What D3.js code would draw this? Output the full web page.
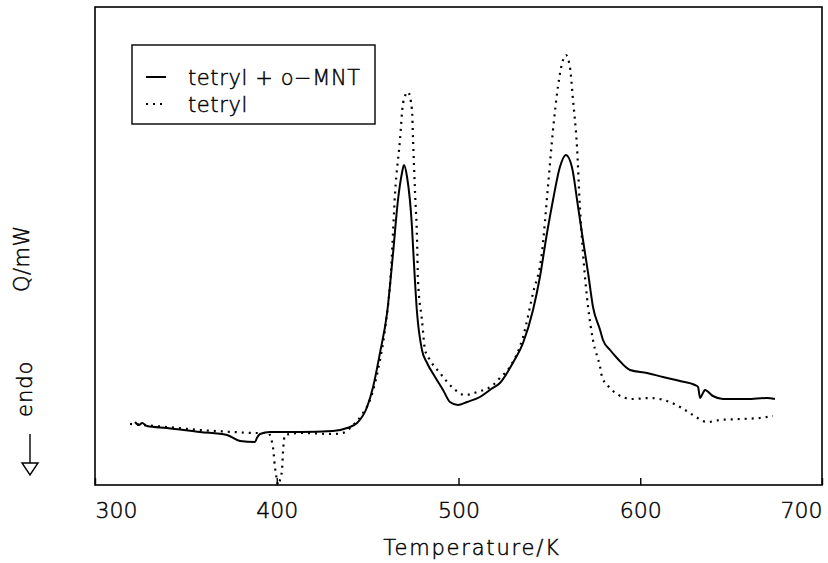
<!DOCTYPE html>
<html>
<head>
<meta charset="utf-8">
<script src="https://cdn.jsdelivr.net/npm/d3@7"></script>
<style>
  body { margin: 0; background: #fff; }
  text { font-family: "DejaVu Sans", sans-serif; font-weight: 200; fill: #000; stroke: #000; stroke-width: 0.45px; }
</style>
</head>
<body>
<div id="chart"></div>
<script>
// DSC traces (Q in arbitrary units, T in K)
const mixT = [322.0, 324.2, 325.9, 328.6, 339.6, 357.8, 372.6, 379.8, 388.0, 389.1, 390.8, 396.3,
  412.8, 430.9, 438.7, 444.2, 449.7, 453.0, 456.8, 460.7, 464.0, 466.7, 468.9, 470.0, 471.7,
  474.4, 475.0, 477.2, 479.9, 482.7, 487.1, 491.5, 495.3, 499.7, 504.7, 511.8, 518.0, 522.8,
  529.9, 535.5, 541.0, 544.8, 548.7, 552.0, 555.8, 559.1, 562.4, 565.8, 568.5, 571.3, 574.0,
  577.9, 579.5, 583.4, 587.2, 594.4, 603.7, 612.5, 621.9, 630.1, 631.8, 632.9, 634.5, 635.6,
  640.0, 645.5, 658.7, 669.7, 674.1];
const mixQ = [6.3, 6.0, 6.2, 5.9, 5.7, 5.3, 5.0, 4.4, 4.3, 4.7, 5.1, 5.3,
  5.3, 5.4, 5.7, 6.2, 7.8, 9.8, 13.2, 17.2, 23.2, 28.5, 31.2, 32.0, 30.8,
  25.8, 23.8, 17.2, 13.5, 12.2, 10.8, 9.5, 8.3, 8.0, 8.3, 8.8, 9.6, 10.2,
  12.2, 14.2, 17.5, 20.8, 25.2, 28.5, 31.8, 33.0, 31.8, 27.8, 24.5, 21.2, 17.8,
  15.5, 14.5, 13.5, 12.7, 11.5, 11.2, 10.8, 10.4, 10.0, 9.8, 8.7, 9.2, 9.5,
  8.9, 8.6, 8.6, 8.7, 8.6];

const tetT = [319.3, 339.6, 357.8, 375.9, 389.1, 395.2, 397.9, 399.0, 400.1, 400.7, 401.8, 402.9,
  403.4, 404.5, 412.8, 430.9, 436.4, 442.0, 447.5, 451.3, 455.7, 459.5, 462.9, 465.1, 467.8,
  469.5, 472.2, 474.4, 475.0, 476.1, 477.2, 477.7, 479.9, 481.6, 484.3, 489.8, 497.0, 503.6,
  510.2, 519.0, 522.8, 528.3, 535.5, 541.0, 545.9, 549.2, 552.0, 554.7, 557.5, 559.1, 561.3,
  563.0, 565.2, 566.8, 568.5, 571.3, 574.0, 577.9, 579.0, 583.4, 587.2, 595.5, 605.4, 614.7,
  621.9, 629.0, 636.7, 643.9, 654.9, 665.9, 673.0];
const tetQ = [6.1, 5.8, 5.5, 5.3, 5.2, 5.2, 3.8, 1.8, 0.5, 0.0, 0.5, 1.5,
  3.2, 5.0, 5.2, 5.1, 5.2, 6.0, 7.2, 8.5, 11.5, 15.5, 21.5, 29.2, 34.5,
  38.2, 39.3, 37.5, 34.5, 29.2, 24.5, 20.5, 16.5, 13.5, 12.5, 11.2, 9.7, 9.0,
  9.3, 10.0, 10.7, 11.8, 14.8, 19.2, 23.2, 29.8, 35.5, 39.8, 42.5, 43.0, 41.8,
  38.5, 33.8, 27.8, 23.2, 17.8, 14.5, 11.8, 10.8, 9.7, 9.1, 8.6, 8.7, 8.4,
  7.8, 7.0, 6.3, 6.5, 6.6, 6.7, 6.9];

const xTicks = [300, 400, 500, 600, 700];
const legendLabels = ["tetryl + o\u2212MNT", "tetryl"];

const width = 828, height = 563;
const margin = { top: 7, right: 6, bottom: 78, left: 95 };
const innerWidth = width - margin.left - margin.right;
const innerHeight = height - margin.top - margin.bottom;

const svg = d3.select("#chart").append("svg")
  .attr("width", width)
  .attr("height", height);

const inner = svg.append("g")
  .attr("transform", `translate(${margin.left},${margin.top})`);

const x = d3.scaleLinear().domain([300, 700]).range([0, innerWidth]);
const y = d3.scaleLinear().domain([0, 47.8]).range([innerHeight, 0]);

const line = d3.line()
  .x(d => x(d[0]))
  .y(d => y(d[1]))
  .curve(d3.curveMonotoneX);

// Curves
inner.append("path")
  .datum(tetT.map((t, i) => [t, tetQ[i]]))
  .attr("d", line)
  .attr("fill", "none")
  .attr("stroke", "#000")
  .attr("stroke-width", 2.2)
  .attr("stroke-dasharray", "2,5");

inner.append("path")
  .datum(mixT.map((t, i) => [t, mixQ[i]]))
  .attr("d", line)
  .attr("fill", "none")
  .attr("stroke", "#000")
  .attr("stroke-width", 2)
  .attr("stroke-linejoin", "round");

// Frame
inner.append("rect")
  .attr("width", innerWidth)
  .attr("height", innerHeight)
  .attr("fill", "none")
  .attr("stroke", "#000")
  .attr("stroke-width", 1.6);

// X axis (ticks pointing inward)
const xAxis = inner.append("g")
  .attr("transform", `translate(0,${innerHeight})`)
  .call(d3.axisBottom(x).tickValues(xTicks).tickSize(-7).tickPadding(17).tickFormat(d3.format("d")));
xAxis.select(".domain").remove();
xAxis.selectAll("line").attr("stroke-width", 1.4);
xAxis.selectAll("text")
  .attr("font-size", 22)
  .attr("font-family", "DejaVu Sans")
  .attr("font-weight", 200)
  .attr("fill", "#000")
  .attr("text-anchor", d => d === 300 ? "start" : d === 700 ? "end" : "middle");

// X axis label
svg.append("text")
  .attr("x", 472)
  .attr("y", 555)
  .attr("text-anchor", "middle")
  .attr("font-size", 21)
  .attr("letter-spacing", 1.8)
  .text("Temperature/K");

// Y axis labels
svg.append("text")
  .attr("transform", "translate(29,292) rotate(-90)")
  .attr("font-size", 21)
  .attr("letter-spacing", 0.5)
  .text("Q/mW");

svg.append("text")
  .attr("transform", "translate(32,417) rotate(-90)")
  .attr("font-size", 21)
  .attr("letter-spacing", 1)
  .text("endo");

// endo arrow
svg.append("line")
  .attr("x1", 30).attr("x2", 30)
  .attr("y1", 434).attr("y2", 463)
  .attr("stroke", "#000").attr("stroke-width", 1.4);
svg.append("path")
  .attr("d", "M22,463 L38,463 L30,475 Z")
  .attr("fill", "#fff")
  .attr("stroke", "#000")
  .attr("stroke-width", 1.4);

// Legend
const legend = svg.append("g");
legend.append("rect")
  .attr("x", 132).attr("y", 45)
  .attr("width", 243).attr("height", 79)
  .attr("fill", "#fff")
  .attr("stroke", "#000")
  .attr("stroke-width", 1.4);

legendLabels.forEach((label, i) => {
  const ly = 85 + i * 27;
  legend.append("line")
    .attr("x1", 146).attr("x2", 166)
    .attr("y1", ly - 8).attr("y2", ly - 8)
    .attr("stroke", "#000")
    .attr("stroke-width", i === 0 ? 2 : 2.2)
    .attr("stroke-dasharray", i === 0 ? null : "2,5");
  legend.append("text")
    .attr("x", 188)
    .attr("y", ly)
    .attr("font-size", 21)
    .attr("letter-spacing", 0.6)
    .text(label);
});
</script>
</body>
</html>
